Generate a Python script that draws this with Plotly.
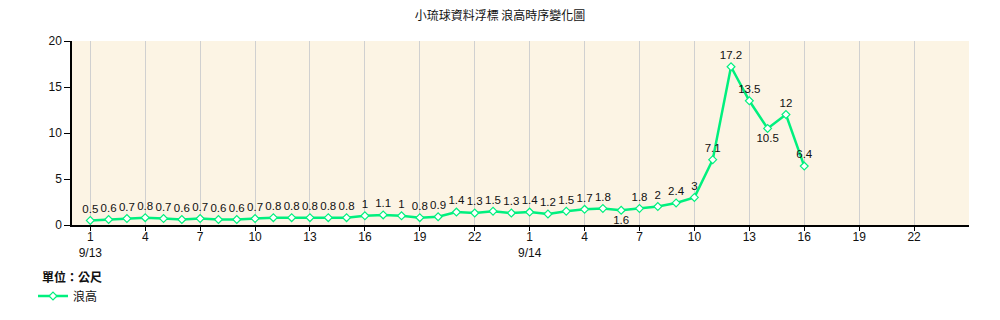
import plotly.graph_objects as go

days = ["9/13", "9/14"]
hours = list(range(1, 25))
slots = [f"{d} {h:02d}" for d in days for h in hours]

wave_values = [0.5, 0.6, 0.7, 0.8, 0.7, 0.6, 0.7, 0.6, 0.6, 0.7, 0.8, 0.8,
               0.8, 0.8, 0.8, 1, 1.1, 1, 0.8, 0.9, 1.4, 1.3, 1.5, 1.3,
               1.4, 1.2, 1.5, 1.7, 1.8, 1.6, 1.8, 2, 2.4, 3, 7.1, 17.2,
               13.5, 10.5, 12, 6.4]
wave_times = slots[:len(wave_values)]
below_labels = {"9/14 06", "9/14 14"}

tick_hours = [1, 4, 7, 10, 13, 16, 19, 22]
tick_vals = [f"{d} {h:02d}" for d in days for h in tick_hours]
tick_text = [(f"{h}<br>{d}" if h == 1 else str(h)) for d in days for h in tick_hours]

line_color = "#00F07E"
font_main = "Liberation Sans, Arial, Noto Sans CJK TC, sans-serif"
font_cjk = "Noto Sans CJK TC, sans-serif"

fig = go.Figure()
fig.add_trace(go.Scatter(
    x=wave_times, y=wave_values, mode="lines+markers+text", name="浪高",
    line=dict(color=line_color, width=2.5),
    marker=dict(symbol="diamond", size=6, color="white",
                line=dict(color=line_color, width=1.2)),
    text=[str(v) for v in wave_values],
    textposition=["bottom center" if t in below_labels else "top center" for t in wave_times],
    textfont=dict(family=font_main, size=11.5, color="#111"),
    cliponaxis=False,
))

fig.update_layout(
    width=1000, height=320,
    margin=dict(l=72, r=31, t=41, b=95, autoexpand=False),
    paper_bgcolor="white", plot_bgcolor="#FCF4E4",
    title=dict(text="小琉球資料浮標 浪高時序變化圖", x=0.5, xanchor="center",
               yref="container", y=1 - 16 / 320, yanchor="middle",
               font=dict(family=font_cjk, size=12, color="#111")),
    xaxis=dict(type="category", categoryorder="array", categoryarray=slots,
               range=[-1, 48], tickmode="array", tickvals=tick_vals, ticktext=tick_text,
               showgrid=True, gridcolor="#D0D0D0", gridwidth=1,
               showline=True, linecolor="black", linewidth=1.5,
               ticks="outside", ticklen=4, tickcolor="black", ticklabelstandoff=-4,
               tickfont=dict(family=font_main, size=12, color="#111"), zeroline=False),
    yaxis=dict(range=[0, 20], tickvals=[0, 5, 10, 15, 20],
               showgrid=False, showline=True, linecolor="black", linewidth=1.5,
               ticks="outside", ticklen=6, tickcolor="black",
               tickfont=dict(family=font_main, size=12, color="#111"), zeroline=False),
    showlegend=True,
    legend=dict(x=33 / 1000, xref="container", y=1 - 296 / 320, yref="container",
                xanchor="left", yanchor="middle",
                font=dict(family=font_cjk, size=12, color="#111"),
                bgcolor="rgba(0,0,0,0)", itemwidth=30),
    annotations=[dict(text="<b>單位：公尺</b>", xref="paper", yref="paper",
                      x=-32 / 897, y=-(276 - 225) / 184, xanchor="left", yanchor="middle",
                      showarrow=False,
                      font=dict(family=font_cjk, size=12, color="#111"))],
)

fig.write_html("out.html")
